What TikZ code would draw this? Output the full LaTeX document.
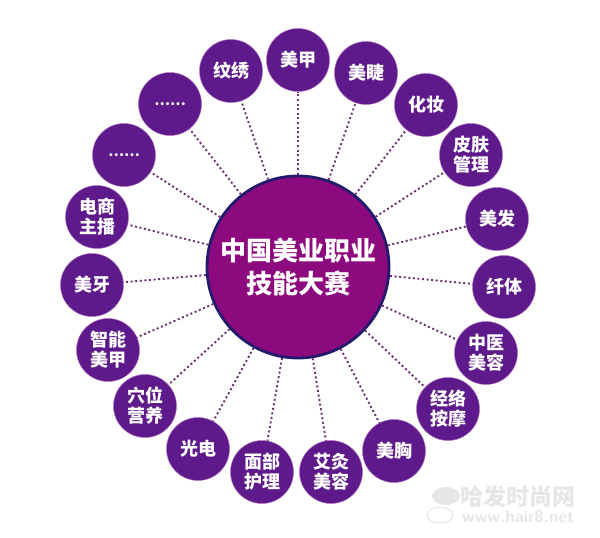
\documentclass[tikz,border=0pt]{standalone}
\usepackage{fontspec}
\newfontfamily\cjk{Noto Sans CJK SC}
\definecolor{hubfill}{HTML}{8C0A7E}
\definecolor{hubedge}{HTML}{221A6C}
\definecolor{petal}{HTML}{5E1A8A}
\definecolor{petaledge}{HTML}{B070C0}
\definecolor{dotline}{HTML}{6E2F70}
\definecolor{wm}{HTML}{E6E6E6}
\tikzset{
  hub/.style={circle,fill=hubfill,draw=hubedge,line width=2.8pt,minimum size=182pt,inner sep=0pt,align=center,text=white,font=\cjk\bfseries\fontsize{26}{33}\selectfont},
  petalnode/.style={circle,fill=petal,draw=petaledge,line width=0.5pt,minimum size=63pt,inner sep=0pt,align=center,text=white,font=\cjk\bfseries\fontsize{18}{20}\selectfont},
  link/.style={dotline,line width=1.9pt,dash pattern=on 2pt off 2.6pt},
  wmark/.style={inner sep=0pt,text=wm,anchor=west}
}
\begin{document}
\begin{tikzpicture}[x=1pt,y=-1pt]
\useasboundingbox (0,0) rectangle (600,538);
\node[hub] (c) at (298,267) {中国美业职业\\技能大赛};
\foreach \n/\x/\y/\t in {
  a/298/60/美甲, b/366/73/美睫, d/426/105/化妆, e/471/155/{皮肤\\管理},
  f/497/219/美发, g/504/287/纤体, h/486/353/{中医\\美容}, i/448/409/{经络\\按摩},
  j/394/451/美胸, k/331/472/{艾灸\\美容}, l/262/472/{面部\\护理}, m/198/449/光电,
  o/145/406/{穴位\\营养}, p/108/350/{智能\\美甲}, q/92/285/美牙, r/97/217/{电商\\主播},
  s/124/155/{\fontsize{14}{14}\selectfont ……}, u/170/104/{\fontsize{14}{14}\selectfont ……}, v/231/71/纹绣}
{
  \node[petalnode] (\n) at (\x,\y) {\t};
  \draw[link] (c) -- (\n);
}
\node[wmark,font=\cjk\bfseries\fontsize{23}{23}\selectfont] (w1) at (460,497) {哈发时尚网};
\node[wmark,font=\sffamily\bfseries\fontsize{17}{17}\selectfont] (w2) at (462,517) {www.hair8.net};
\fill[wm] (446,496) ellipse (14pt and 9pt);
\draw[wm,line width=1pt] (440,515) ellipse (13pt and 8pt);
\end{tikzpicture}
\end{document}
